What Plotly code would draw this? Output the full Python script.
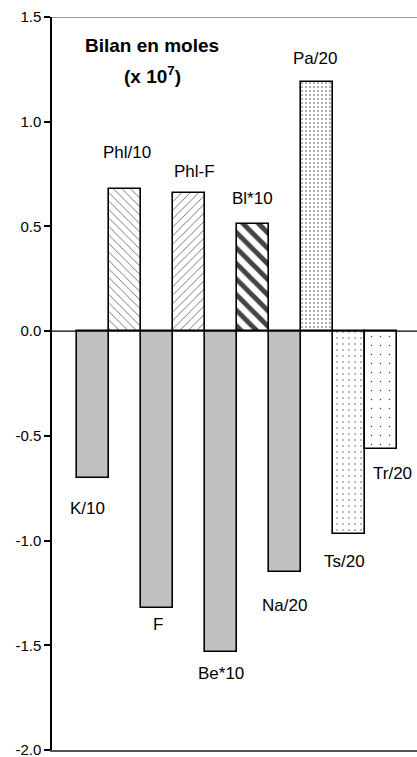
import plotly.graph_objects as go

categories = ["K/10", "Phl/10", "F", "Phl-F", "Be*10", "Bl*10", "Na/20", "Pa/20", "Ts/20", "Tr/20"]
values = [-0.70, 0.68, -1.32, 0.66, -1.53, 0.51, -1.15, 1.19, -0.97, -0.565]
y_ticks = [-2.0, -1.5, -1.0, -0.5, 0.0, 0.5, 1.0, 1.5]
y_tick_text = ["-2.0", "-1.5", "-1.0", "-0.5", "0.0", "0.5", "1.0", "1.5"]

# label positions (category index offset, value) for annotations
label_x = [-0.16, 1.06, 2.03, 3.16, 4.0, 4.97, 6.0, 6.94, 7.86, 9.35]
label_y = [-0.845, 0.855, -1.40, 0.76, -1.633, 0.635, -1.31, 1.304, -1.10, -0.678]

fills = ["#c0c0c0", "white", "#c0c0c0", "white", "#c0c0c0", "white", "#c0c0c0", "white", "white", "white"]
pshapes = ["", "\\", "", "/", "", "\\", "", ".", ".", "."]
psizes = [8, 6, 8, 6, 11, 11, 8, 4, 6, 9]
psolid = [0.3, 0.12, 0.3, 0.12, 0.3, 0.45, 0.3, 0.12, 0.04, 0.02]

x = list(range(len(categories)))

FONT = "Liberation Sans, Arial"

fig = go.Figure()
fig.add_trace(go.Bar(
    x=x, y=values, width=1.0,
    marker=dict(
        color=fills,
        line=dict(color="black", width=1.6),
        pattern=dict(shape=pshapes, size=psizes, solidity=psolid, fgcolor="black",
                     fgopacity=1, fillmode="overlay"),
    ),
    showlegend=False,
    hoverinfo="skip",
))

for cx, cy, t in zip(label_x, label_y, categories):
    fig.add_annotation(x=cx, y=cy, text=t, showarrow=False, xanchor="center", yanchor="middle",
                       font=dict(family=FONT, size=17, color="black"))

fig.add_annotation(x=0.274, y=1.366, xref="paper", yref="y", text="<b>Bilan en moles</b>",
                   showarrow=False, xanchor="center", yanchor="middle",
                   font=dict(family=FONT, size=19, color="black"))
fig.add_annotation(x=0.274, y=1.225, xref="paper", yref="y", text="<b>(x 10<sup>7</sup>)</b>",
                   showarrow=False, xanchor="center", yanchor="middle",
                   font=dict(family=FONT, size=19, color="black"))

# zero line, top border
fig.add_shape(type="line", xref="paper", yref="y", x0=0, x1=1, y0=0, y1=0,
              line=dict(color="black", width=1.2), layer="above")
fig.add_shape(type="line", xref="paper", yref="y", x0=0, x1=1, y0=1.5, y1=1.5,
              line=dict(color="#777777", width=1.5), layer="above")

fig.update_layout(
    width=417, height=757,
    margin=dict(l=52, r=0, t=17, b=7),
    plot_bgcolor="white", paper_bgcolor="white",
    bargap=0,
    xaxis=dict(range=[-1.28, 10.125], showticklabels=False, ticks="", showgrid=False,
               zeroline=False, showline=True, linecolor="#555555", linewidth=1.5),
    yaxis=dict(range=[-2.0, 1.5], tickvals=y_ticks, ticktext=y_tick_text,
               ticks="outside", ticklen=6, tickwidth=1.5, tickcolor="black",
               ticklabeloverflow="allow",
               showgrid=False, zeroline=False, showline=True, linecolor="black", linewidth=1.5,
               tickfont=dict(family=FONT, size=15, color="black")),
    font=dict(family=FONT),
)

fig.write_html("out.html", config={"displayModeBar": False},
               post_script="document.body.style.margin='0';document.body.style.overflow='hidden';")
